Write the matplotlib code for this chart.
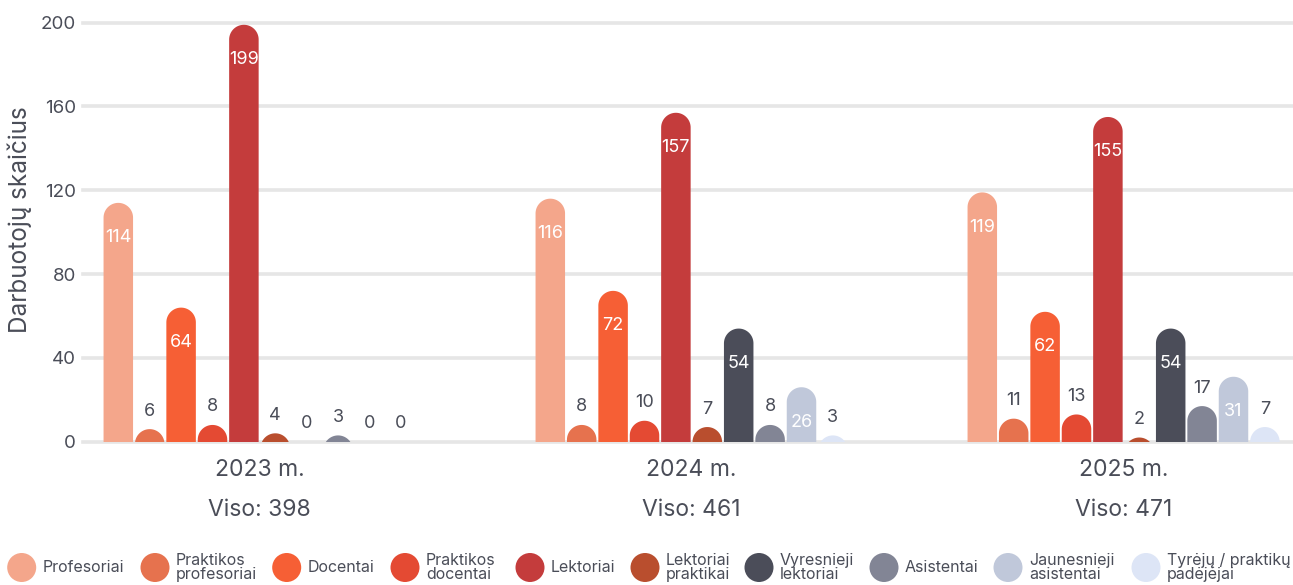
import matplotlib
matplotlib.use("Agg")
import matplotlib.pyplot as plt
from matplotlib.path import Path
from matplotlib.patches import PathPatch, Circle
import numpy as np

# ---------------- data ----------------
years = ["2023 m.", "2024 m.", "2025 m."]
totals = ["Viso: 398", "Viso: 461", "Viso: 471"]
series_names = [
    "Profesoriai", "Praktikos\nprofesoriai", "Docentai", "Praktikos\ndocentai",
    "Lektoriai", "Lektoriai\npraktikai", "Vyresnieji\nlektoriai", "Asistentai",
    "Jaunesnieji\nasistentai", "Tyrėjų / praktikų\npadėjėjai",
]
profesoriai = [114, 116, 119]
praktikos_profesoriai = [6, 8, 11]
docentai = [64, 72, 62]
praktikos_docentai = [8, 10, 13]
lektoriai = [199, 157, 155]
lektoriai_praktikai = [4, 7, 2]
vyresnieji_lektoriai = [0, 54, 54]
asistentai = [3, 8, 17]
jaunesnieji_asistentai = [0, 26, 31]
tyreju_padejejai = [0, 3, 7]
series_values = [profesoriai, praktikos_profesoriai, docentai, praktikos_docentai,
                 lektoriai, lektoriai_praktikai, vyresnieji_lektoriai, asistentai,
                 jaunesnieji_asistentai, tyreju_padejejai]
colors = ["#f4a68b", "#e6724e", "#f65f35", "#e44a33", "#c43c3c",
          "#b94e2e", "#4b4d59", "#828595", "#c0c8da", "#dde5f6"]
yticks = [0, 40, 80, 120, 160, 200]

# ---------------- style ----------------
plt.rcParams['font.family'] = ['Inter', 'DejaVu Sans']
TXT = "#4a4d58"
GRID = "#e6e6e6"

W, H = 1293, 585
fig = plt.figure(figsize=(W / 100, H / 100), dpi=100)

ax_left_px, ax_right_px = 83, 1293
ax_zero_px, ax_top_px = 441.7, 22.7
ax = fig.add_axes([ax_left_px / W, (H - ax_zero_px) / H,
                   (ax_right_px - ax_left_px) / W, (ax_zero_px - ax_top_px) / H])

group_px = 432.0
first_center_px = 259.6
xmin = (ax_left_px - first_center_px) / group_px
xmax = (ax_right_px - first_center_px) / group_px
ax.set_xlim(xmin, xmax)
ax.set_ylim(0, 200)

ppu = (ax_zero_px - ax_top_px) / 200.0  # pixels per y unit
pitch = 31.4 / group_px
bw = 29.5 / group_px
rx = bw / 2
ry = (29.5 / 2) / ppu

for sp in ax.spines.values():
    sp.set_visible(False)

for t in yticks:
    ax.axhline(t, color=GRID, lw=2.6, zorder=0, clip_on=False)

ax.set_yticks(yticks)
ax.set_yticklabels([str(t) for t in yticks])
ax.tick_params(axis='y', length=0, pad=5, labelsize=13.5, labelcolor=TXT)
ax.set_xticks([])

n = len(series_values)
theta = np.linspace(0, np.pi, 40)


def rounded_bar(xc, h, color):
    if h <= 0:
        return
    base = min(0, h - ry) - 5
    top_c = h - ry
    xs = [xc - rx, xc - rx]
    ys = [base, top_c]
    xs += list(xc - rx * np.cos(theta))
    ys += list(top_c + ry * np.sin(theta))
    xs += [xc + rx, xc + rx]
    ys += [top_c, base]
    verts = list(zip(xs, ys))
    verts.append(verts[0])
    codes = [Path.MOVETO] + [Path.LINETO] * (len(verts) - 2) + [Path.CLOSEPOLY]
    p = PathPatch(Path(verts, codes), facecolor=color, edgecolor='none', zorder=2)
    ax.add_patch(p)


for gi in range(len(years)):
    for si in range(n):
        v = series_values[si][gi]
        xc = gi + (si - (n - 1) / 2) * pitch
        rounded_bar(xc, v, colors[si])
        if v >= 20:
            ax.annotate(str(v), xy=(xc, v), xytext=(0, -35 * 0.72), textcoords='offset points',
                        ha='center', va='center', color='white', fontsize=13, zorder=3)
        else:
            ax.annotate(str(v), xy=(xc, v), xytext=(0, 18 * 0.72), textcoords='offset points',
                        ha='center', va='center', color=TXT, fontsize=13, zorder=3)
    ax.annotate(years[gi], xy=(gi, 0), xycoords=('data', 'axes fraction'),
                xytext=(0, -28.5 * 0.72), textcoords='offset points',
                ha='center', va='center', color=TXT, fontsize=16.5, annotation_clip=False)
    ax.annotate(totals[gi], xy=(gi, 0), xycoords=('data', 'axes fraction'),
                xytext=(0, -68.5 * 0.72), textcoords='offset points',
                ha='center', va='center', color=TXT, fontsize=16.5, annotation_clip=False)

fig.text(20 / W, 1 - 220 / H, "Darbuotojų skaičius", rotation=90, ha='center', va='center',
         color=TXT, fontsize=17.5)

# legend in pixel coordinates
lax = fig.add_axes([0, 0, 1, 1], zorder=-1)
lax.set_xlim(0, W)
lax.set_ylim(H, 0)
lax.axis('off')
circle_x = [21.7, 155, 286.7, 405, 530, 645, 759, 884, 1008, 1146]
ly = 567.5
for cx, name, col in zip(circle_x, series_names, colors):
    lax.add_patch(Circle((cx, ly), 14.5, facecolor=col, edgecolor='none'))
    lax.text(cx + 21, ly, name, ha='left', va='center', color=TXT, fontsize=11.5,
             linespacing=0.85)

fig.savefig("out.png", dpi=100)
